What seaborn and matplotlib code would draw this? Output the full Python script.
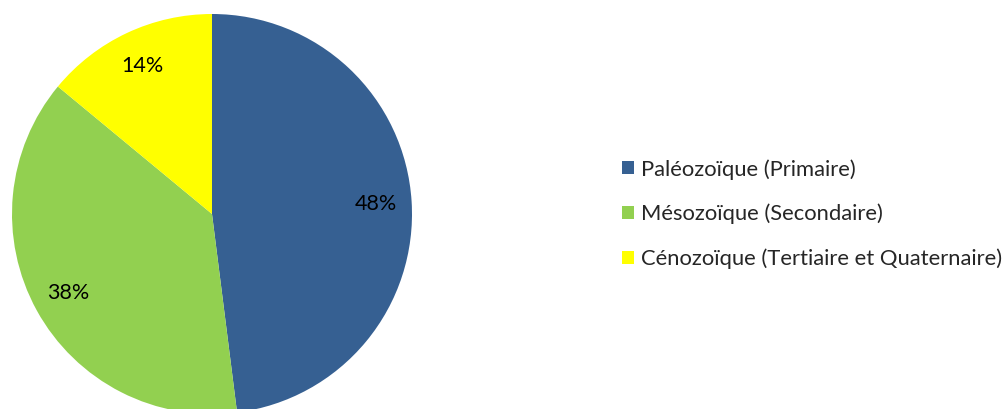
import matplotlib
matplotlib.use("Agg")
import matplotlib.pyplot as plt
import seaborn as sns
from matplotlib.patches import Patch

categories = ["Paléozoïque (Primaire)", "Mésozoïque (Secondaire)",
              "Cénozoïque (Tertiaire et Quaternaire)"]
values = [48, 38, 14]
colors = ["#366092", "#92D050", "#FFFF00"]

sns.set_theme(style="white")
plt.rcParams['font.family'] = ['Lato', 'DejaVu Sans']

W, H = 1006, 409
fig = plt.figure(figsize=(W / 100, H / 100), dpi=100)
fig.patch.set_facecolor("white")

cx, cy, r = 212, 214, 200
ax = fig.add_axes([(cx - r) / W, (H - cy - r) / H, 2 * r / W, 2 * r / H])
wedges, texts, autotexts = ax.pie(
    values, colors=colors, startangle=90, counterclock=False,
    autopct=lambda p: f"{p:.0f}%", pctdistance=0.82, radius=1,
    wedgeprops=dict(linewidth=0), textprops=dict(fontsize=15.5, color="black"))
ax.set_xlim(-1, 1)
ax.set_ylim(-1, 1)
ax.set_aspect("equal")
ax.axis("off")

handles = [Patch(facecolor=c, edgecolor="none") for c in colors]
fig.legend(handles, categories, loc="center left",
           bbox_to_anchor=(622 / W, 1 - 214 / H), frameon=False,
           fontsize=15.8, handlelength=0.55, handleheight=0.55,
           handletextpad=0.3, labelspacing=1.1, borderpad=0, borderaxespad=0)

fig.savefig("out.png", dpi=100, facecolor="white")
